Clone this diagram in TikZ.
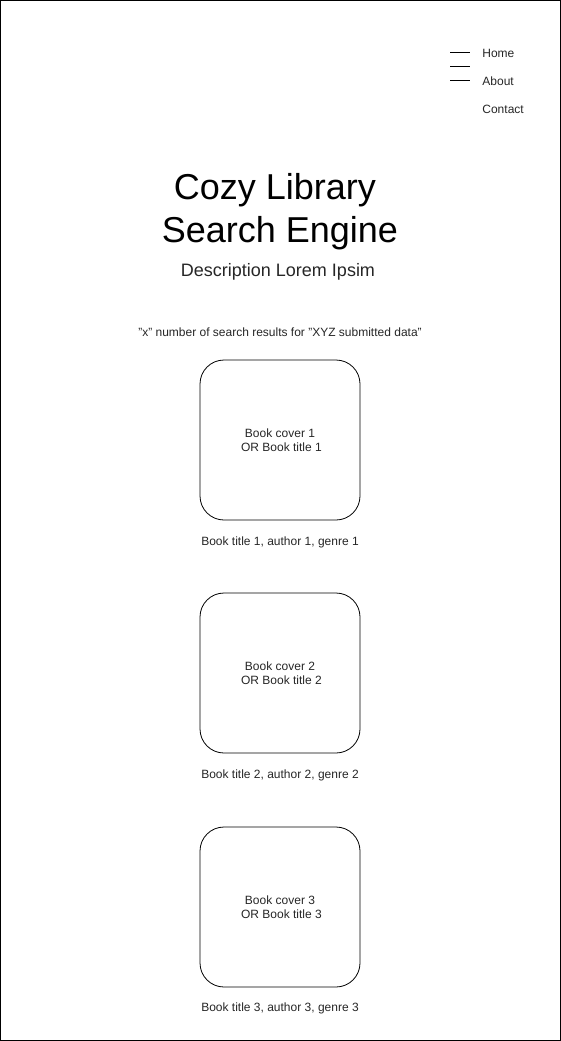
\documentclass[tikz,border=0pt]{standalone}
\usepackage{fontspec}
\setmainfont{Liberation Sans}
\usetikzlibrary{positioning}

\begin{document}
\begin{tikzpicture}[x=1pt, y=-1pt, line width=0.8pt,
    every node/.style={inner sep=0pt, text=black!85},
    menu/.style={anchor=west, font=\fontsize{12}{14}\selectfont},
    book/.style={draw, rounded corners=24pt, minimum width=160pt, minimum height=160pt, align=center, font=\fontsize{12}{14}\selectfont},
    caption/.style={font=\fontsize{12}{14}\selectfont}]
            \useasboundingbox (0, 0) rectangle (561, 1041);
            \draw (0.5, 0.5) rectangle (560.5, 1040.5);

            % menu
            \draw (450, 52) -- (470, 52);
            \draw (450, 66) -- (470, 66);
            \draw (450, 80) -- (470, 80);
            \node[menu] (home) at (482, 53) {Home};
            \node[menu] (about) at (482, 81) {About};
            \node[menu] (contact) at (482, 109) {Contact};

            % heading
            \node[align=center, font=\fontsize{36}{43}\selectfont, text=black] (title) at (280, 212) {Cozy Library\hspace*{10pt}\\Search Engine};
            \node[font=\fontsize{18}{21}\selectfont] (desc) at (278, 272) {Description Lorem Ipsim};
            \node[caption] (results) at (280, 332) {\symbol{34}x\symbol{34} number of search results for \symbol{34}XYZ submitted data\symbol{34}};

            % results
            \node[book] (b1) at (280, 440) {Book cover 1\\\hspace*{3pt}OR Book title 1};
            \node[caption] (c1) at (280, 542) {Book title 1, author 1, genre 1};
            \node[book] (b2) at (280, 673) {Book cover 2\\\hspace*{3pt}OR Book title 2};
            \node[caption] (c2) at (280, 775) {Book title 2, author 2, genre 2};
            \node[book] (b3) at (280, 907) {Book cover 3\\\hspace*{3pt}OR Book title 3};
            \node[caption] (c3) at (280, 1008) {Book title 3, author 3, genre 3};
        \end{tikzpicture}
\end{document}
